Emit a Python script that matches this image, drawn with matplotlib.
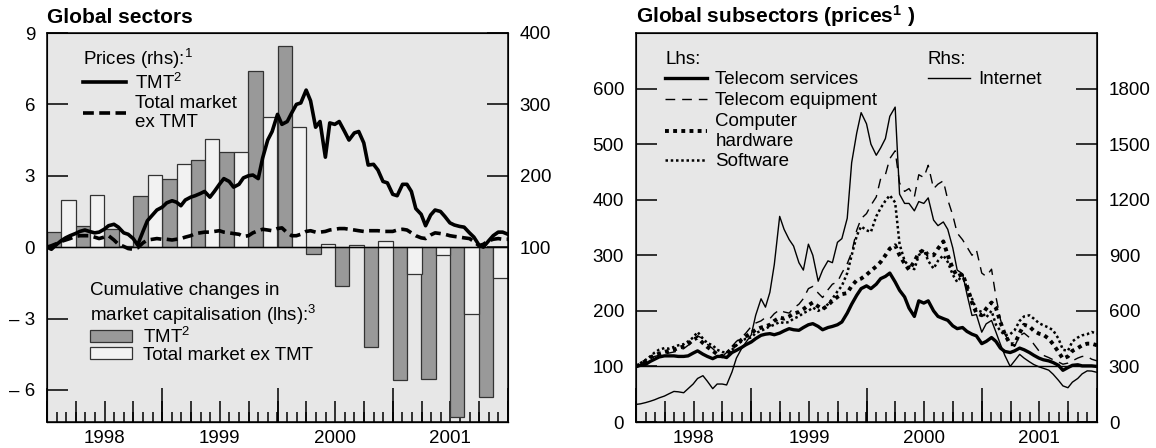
import numpy as np
import pandas as pd
import matplotlib
matplotlib.use("Agg")
import matplotlib.pyplot as plt

plt.rcParams["font.family"] = ["Liberation Sans", "DejaVu Sans"]
plt.rcParams["mathtext.fontset"] = "custom"
plt.rcParams["mathtext.rm"] = "Liberation Sans"
plt.rcParams["mathtext.it"] = "Liberation Sans:italic"
plt.rcParams["mathtext.bf"] = "Liberation Sans:bold"

# quarterly cumulative changes in market capitalisation (lhs, left panel)
quarters = pd.date_range("1998-01-01", periods=16, freq="QS")
cap_tmt = [0.65, 0.9, 0.75, 2.15, 2.85, 3.65, 4.0, 7.4,
           8.45, -0.3, -1.65, -4.2, -5.6, -5.55, -7.15, -6.3]
cap_ex_tmt = [2.0, 2.2, 0.05, 3.05, 3.5, 4.55, 4.0, 5.45,
              5.05, 0.12, 0.1, 0.24, -1.15, -0.35, -2.8, -1.3]

# semi-monthly price indices, Jan 1998 = 100
dates = pd.date_range("1998-01-01", periods=97, freq="SMS")
price_tmt = [100, 97, 104, 109, 113, 116, 119, 122, 124, 122, 120, 121,
             125, 130, 132, 128, 120, 118, 112, 103, 122, 137, 145, 152,
             156, 162, 165, 163, 158, 166, 170, 172, 175, 178, 170, 178,
             188, 196, 192, 184, 188, 197, 200, 201, 196, 225, 250, 262,
             286, 272, 276, 288, 300, 302, 320, 305, 268, 276, 226, 274,
             272, 276, 262, 250, 260, 262, 246, 215, 216, 208, 192, 190,
             174, 172, 188, 188, 178, 154, 146, 130, 145, 152, 150, 143,
             134, 131, 129, 128, 120, 114, 103, 100, 109, 116, 121, 121, 118]
price_ex_tmt = [100, 102, 105, 108, 110, 112, 115, 116, 116, 116, 114, 112,
                114, 116, 110, 104, 101, 98, 97, 99, 106, 110, 111, 112,
                111, 111, 110, 111, 112, 114, 116, 119, 120, 121, 121, 122,
                123, 121, 120, 119, 118, 115, 116, 120, 123, 125, 124, 123,
                126, 127, 120, 116, 116, 118, 122, 123, 121, 121, 122, 124,
                125, 126, 126, 125, 124, 123, 122, 123, 123, 123, 122, 122,
                122, 124, 125, 124, 120, 116, 113, 112, 117, 120, 119, 118,
                116, 115, 114, 113, 112, 108, 102, 104, 109, 111, 112, 111, 111]

telecom_services = [100, 102, 104, 109, 113, 117, 119, 119, 119, 118, 118, 119,
                    124, 128, 122, 118, 114, 118, 118, 116, 125, 129, 134, 139,
                    144, 150, 156, 158, 159, 157, 160, 164, 168, 166, 165, 170,
                    175, 177, 172, 166, 170, 172, 175, 180, 196, 212, 228, 240,
                    245, 240, 248, 258, 262, 268, 252, 237, 225, 205, 190, 218,
                    214, 218, 200, 190, 186, 183, 173, 168, 170, 163, 158, 155,
                    141, 145, 152, 145, 133, 127, 125, 128, 133, 130, 125, 120,
                    115, 112, 110, 107, 102, 93, 98, 102, 103, 101, 101, 101, 100]
telecom_equipment = [100, 104, 110, 115, 118, 120, 122, 124, 126, 128, 132, 138,
                     145, 155, 150, 140, 132, 124, 118, 125, 136, 145, 152, 160,
                     172, 178, 182, 188, 186, 195, 202, 198, 196, 205, 212, 222,
                     240, 244, 232, 224, 238, 248, 252, 268, 285, 305, 345, 366,
                     375, 390, 405, 438, 445, 474, 488, 430, 415, 420, 405, 445,
                     440, 462, 420, 428, 434, 400, 372, 340, 328, 315, 300, 310,
                     268, 262, 275, 225, 185, 158, 142, 136, 155, 160, 152, 140,
                     128, 120, 116, 112, 108, 104, 106, 110, 115, 118, 118, 113, 110]
computer_hardware = [100, 104, 110, 116, 120, 123, 126, 128, 130, 133, 136, 140,
                     148, 152, 142, 135, 128, 122, 118, 123, 133, 140, 148, 154,
                     160, 166, 170, 172, 175, 182, 188, 186, 190, 195, 198, 203,
                     210, 215, 208, 203, 210, 218, 225, 230, 232, 245, 255, 258,
                     265, 272, 280, 288, 300, 312, 318, 300, 285, 274, 289, 304,
                     310, 300, 300, 312, 325, 300, 276, 262, 266, 245, 215, 196,
                     192, 204, 215, 205, 180, 158, 140, 140, 160, 175, 172, 164,
                     159, 157, 150, 140, 126, 114, 118, 128, 133, 138, 141, 141, 138]
software = [100, 106, 112, 118, 125, 130, 133, 132, 135, 138, 140, 145,
            152, 162, 150, 142, 138, 130, 126, 125, 130, 138, 145, 150,
            152, 160, 164, 168, 172, 175, 180, 178, 180, 186, 190, 196,
            200, 206, 200, 204, 212, 222, 235, 245, 268, 300, 335, 352,
            345, 342, 370, 385, 398, 408, 395, 320, 290, 280, 275, 300,
            310, 290, 276, 290, 300, 288, 265, 252, 265, 240, 222, 202,
            198, 188, 200, 175, 164, 156, 158, 165, 182, 190, 192, 186,
            178, 174, 170, 165, 150, 130, 128, 145, 152, 156, 158, 162, 159]
# internet is on the rhs scale
internet = [95, 98, 105, 112, 120, 130, 140, 152, 165, 163, 158, 180,
            205, 235, 250, 220, 180, 205, 205, 200, 270, 345, 395, 430,
            470, 576, 665, 620, 700, 850, 1110, 1040, 985, 950, 860, 820,
            960, 900, 760, 820, 870, 860, 970, 990, 1100, 1400, 1560, 1670,
            1610, 1500, 1440, 1480, 1530, 1650, 1700, 1230, 1180, 1180, 1140, 1190,
            1180, 1210, 1090, 1060, 1080, 1040, 940, 820, 800, 690, 575, 580,
            485, 530, 548, 485, 420, 360, 300, 330, 365, 345, 325, 310,
            298, 290, 280, 258, 225, 195, 185, 215, 235, 260, 276, 275, 268]

year_labels = ["1998", "1999", "2000", "2001"]


def to_year(idx):
    # dates -> fractional years, so ticks can sit on months/quarters/years
    days = np.where(idx.is_leap_year, 366, 365)
    return np.asarray(idx.year + (idx.dayofyear - 1) / days)


t = to_year(dates)
tq = to_year(quarters)

FS = 13.5
BG = "#e7e7e7"


def style_xaxis(ax):
    ax.set_xlim(1998, 2002)
    ax.set_xticks(np.arange(1998.5, 2002, 1))
    ax.set_xticklabels(year_labels)
    ax.set_xticks(np.arange(1998, 2002, 1 / 12), minor=True)
    ax.tick_params(axis="x", which="major", length=0, pad=6, labelsize=FS)
    ax.tick_params(axis="x", which="minor", direction="in", length=7, width=1.1)
    # quarter and year ticks are longer
    for step, length in [(0.25, 15), (1, 24.5)]:
        sec = ax.secondary_xaxis("bottom")
        sec.set_xticks(np.arange(1998, 2002.01, step))
        sec.tick_params(direction="in", length=length, width=1.1, labelbottom=False)
    for s in ax.spines.values():
        s.set_linewidth(1.1)


def style_yaxis(ax):
    ax.tick_params(axis="y", direction="in", length=15, width=1.1, pad=8.5, labelsize=FS)


fig = plt.figure(figsize=(11.56, 4.48), dpi=100)

# left panel: global sectors
ax1 = fig.add_axes([47 / 1156, 26 / 448, 461 / 1156, 389 / 448])
ax1.set_facecolor(BG)
b_tmt = ax1.bar(tq, cap_tmt, width=0.125, align="edge", color="#999999",
                edgecolor="#333333", linewidth=0.9, zorder=2)
b_ex = ax1.bar(tq + 0.125, cap_ex_tmt, width=0.125, align="edge", color="#f2f2f2",
               edgecolor="#333333", linewidth=0.9, zorder=2)
ax1.axhline(0, color="black", lw=1, zorder=3)
ax1.set_ylim(-7.35, 9)
ax1.set_yticks([-6, -3, 0, 3, 6, 9])
ax1.set_yticklabels(["\u2013 6", "\u2013 3", "0", "3", "6", "9"])
style_yaxis(ax1)
style_xaxis(ax1)
ax1.set_title("Global sectors", loc="left", fontsize=15, fontweight="bold", pad=7)

ax1r = ax1.twinx()
l_tmt, = ax1r.plot(t, price_tmt, color="black", lw=2.6)
l_ex, = ax1r.plot(t, price_ex_tmt, color="black", lw=2.6, linestyle=(0, (3, 1.5)))
ax1r.set_ylim(100 - 7.35 * 100 / 3, 400)
ax1r.set_yticks([100, 200, 300, 400])
style_yaxis(ax1r)

leg_kw = dict(loc="upper left", frameon=False, borderpad=0, borderaxespad=0,
              fontsize=FS, title_fontsize=FS, alignment="left")
leg1 = ax1r.legend([l_tmt, l_ex], ["TMT$^2$", "Total market\nex TMT"],
                   title="Prices (rhs):$^1$", bbox_to_anchor=(0.078, 0.965),
                   handlelength=2.3, handletextpad=0.5, labelspacing=0.1, **leg_kw)
ax1r.add_artist(leg1)
ax1r.legend([b_tmt, b_ex], ["TMT$^2$", "Total market ex TMT"],
            title="Cumulative changes in\nmarket capitalisation (lhs):$^3$",
            bbox_to_anchor=(0.093, 0.36), handlelength=2.24, handleheight=0.55,
            handletextpad=0.6, labelspacing=0.0, **leg_kw)

# right panel: global subsectors
ax2 = fig.add_axes([636 / 1156, 26 / 448, 461 / 1156, 389 / 448])
ax2.set_facecolor(BG)
ax2.axhline(100, color="black", lw=1)
l_te, = ax2.plot(t, telecom_equipment, color="black", lw=1.0, linestyle=(0, (7, 5)))
l_ch, = ax2.plot(t, computer_hardware, color="black", lw=2.8, linestyle=(0, (1, 1.1)))
l_sw, = ax2.plot(t, software, color="black", lw=1.8, linestyle=(0, (1, 1.1)))
l_ts, = ax2.plot(t, telecom_services, color="black", lw=2.4)
ax2.set_ylim(0, 700)
ax2.set_yticks(np.arange(0, 601, 100))
style_yaxis(ax2)
style_xaxis(ax2)
ax2.set_title("Global subsectors (prices$^\\mathbf{1}$ )", loc="left", fontsize=15,
              fontweight="bold", pad=7)

ax2r = ax2.twinx()
l_in, = ax2r.plot(t, internet, color="black", lw=1.0)
ax2r.set_ylim(0, 2100)
ax2r.set_yticks(np.arange(0, 1801, 300))
style_yaxis(ax2r)

leg3 = ax2r.legend([l_ts, l_te, l_ch, l_sw],
                   ["Telecom services", "Telecom equipment", "Computer\nhardware", "Software"],
                   title="Lhs:", bbox_to_anchor=(0.063, 0.955), handlelength=2.24,
                   handletextpad=0.45, labelspacing=0.2, **leg_kw)
ax2r.add_artist(leg3)
ax2r.legend([l_in], ["Internet"], title="Rhs:", bbox_to_anchor=(0.633, 0.955),
            handlelength=2.24, handletextpad=0.45, labelspacing=0.2, **leg_kw)

fig.savefig("out.png", dpi=100)
